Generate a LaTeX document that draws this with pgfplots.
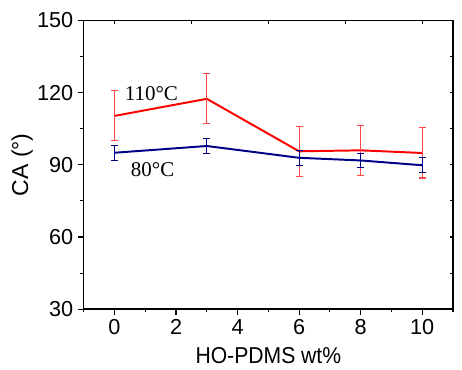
\documentclass[border=0pt]{standalone}
\usepackage{fontspec}
\setmainfont{Liberation Sans}
\newfontfamily\timesf{Liberation Serif}
\usepackage{pgfplots}
\pgfplotsset{compat=1.18}
\definecolor{navy}{RGB}{0,0,135}
\definecolor{ebred}{RGB}{255,70,70}
\begin{document}
\begin{tikzpicture}
\begin{axis}[name=ax, at={(0,0)}, anchor=south west, scale only axis,
  width=281.25pt, height=220pt,
  xmin=-1, xmax=11, ymin=30, ymax=150,
  xtick={0,2,...,10}, minor xtick={-1,1,...,11},
  ytick={30,60,...,150}, minor ytick={45,75,105,135},
  tick align=outside, xtick pos=bottom, ytick pos=left,
  major tick length=4.5pt, minor tick length=2.5pt,
  axis line style={line width=1.2pt}, every tick/.style={line width=0.9pt, black},
  /pgf/number format/assume math mode=true,
  tick label style={font=\fontsize{16.5}{19}\selectfont},
  clip=false,
]
\addplot[red, line width=1.5pt, error bars/.cd, y dir=both, y explicit,
  error bar style={ebred, line width=0.8pt}, error mark options={rotate=90, mark size=2.6pt, ebred, line width=0.8pt}]
  coordinates {(0,110.3) +- (0,10.4) (3,117.4) +- (0,10.4) (6,95.6) +- (0,10.4) (8,96.0) +- (0,10.4) (10,94.9) +- (0,10.4)};
\addplot[navy, line width=1.5pt, error bars/.cd, y dir=both, y explicit,
  error bar style={navy, line width=0.8pt}, error mark options={rotate=90, mark size=2.6pt, navy, line width=0.8pt}]
  coordinates {(0,95.0) +- (0,3.05) (3,97.8) +- (0,3.05) (6,92.9) +- (0,3.05) (8,91.8) +- (0,3.05) (10,89.8) +- (0,3.05)};
\node[font=\timesf\fontsize{16}{18}\selectfont] at (axis cs:1.2,119.6) {110°C};
\node[font=\timesf\fontsize{16}{18}\selectfont] at (axis cs:1.24,87.8) {80°C};
\end{axis}
\begin{axis}[at={(0,0)}, anchor=south west, scale only axis,
  width=281.25pt, height=220pt,
  xmin=-1, xmax=11, ymin=30, ymax=150,
  xtick={0,2.5,5,7.5,10}, ytick={30,45,...,150},
  xticklabels={}, yticklabels={}, minor tick num=0,
  tick align=inside, xtick pos=top, ytick pos=right,
  major tick length=2.5pt, axis line style={draw=none},
  every tick/.style={line width=0.8pt, black},
]
\end{axis}
\node[font=\fontsize{17.5}{20}\selectfont, xscale=0.92] at ([yshift=-35pt]ax.south) {HO-PDMS wt\%};
\node[rotate=90, font=\fontsize{17.5}{20}\selectfont] at ([xshift=-46.9pt]ax.west) {CA (°)};
\useasboundingbox (-63.75pt,-45.75pt) rectangle (282.75pt,235.5pt);
\end{tikzpicture}
\end{document}
